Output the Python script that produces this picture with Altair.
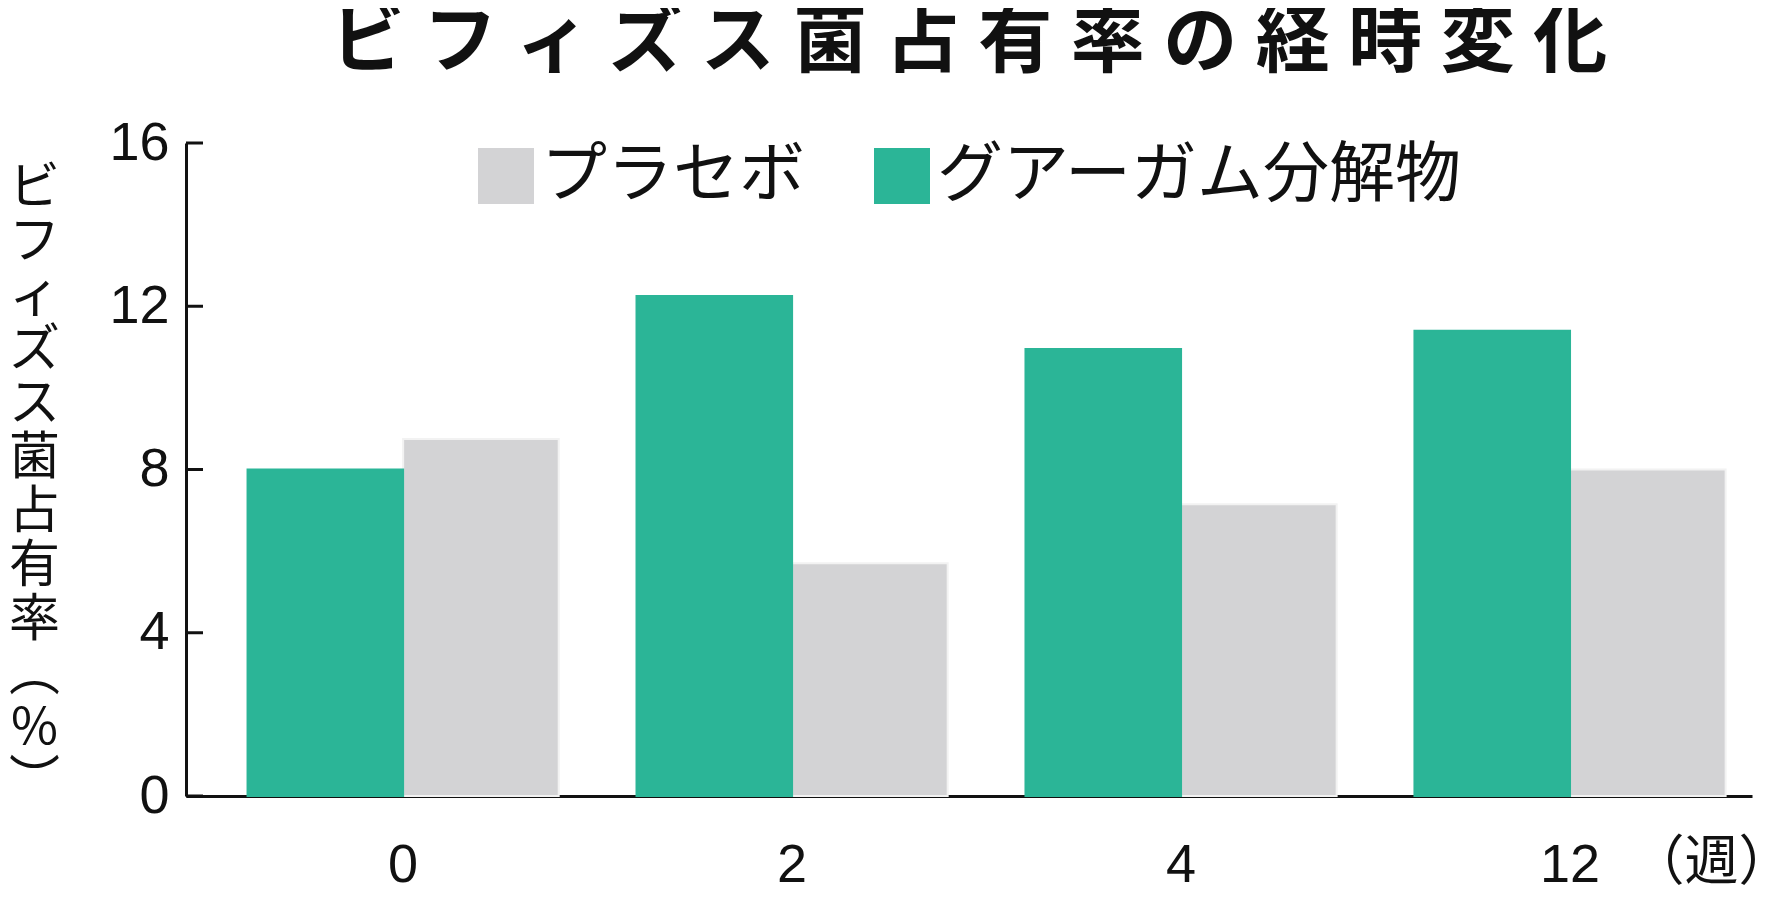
import altair as alt
import pandas as pd

weeks = ["0", "2", "4", "12"]
series_names = ["プラセボ", "グアーガム分解物"]
placebo = [8.75, 5.7, 7.15, 8.0]
guar = [8.0, 12.25, 10.95, 11.4]
y_ticks = [0, 4, 8, 12, 16]
title_text = "ビフィズス菌占有率の経時変化"
y_title_chars = ["ビ", "フ", "ィ", "ズ", "ス", "菌", "占", "有", "率", "︵", "%", "︶"]
x_unit = "（週）"
colors = ["#d3d3d5", "#2bb597"]
edge_colors = ["#f2f2f2", "#2bb597"]

rows = []
for w, p, g in zip(weeks, placebo, guar):
    rows.append({"week": w, "series": series_names[0], "value": p})
    rows.append({"week": w, "series": series_names[1], "value": g})
df = pd.DataFrame(rows)
tick_df = pd.DataFrame({"t": y_ticks})

JP = "Noto Sans CJK JP"
NUM = "Liberation Sans"

y_scale = alt.Scale(domain=[0, 16])

bars = alt.Chart(df).mark_bar(strokeWidth=2).encode(
    x=alt.X("week:N", sort=weeks,
            scale=alt.Scale(paddingInner=0.2, paddingOuter=0.113, align=0.7),
            axis=alt.Axis(title=x_unit, titleX=1525, titleY=40, titleAlign="center",
                          titleBaseline="top", titleFont=JP, titleFontSize=54,
                          titleFontWeight="normal", titleColor="#111",
                          labelAngle=0, labelFont=NUM, labelFontSize=54, labelColor="#111",
                          labelPadding=42, ticks=False, domainColor="#111",
                          domainWidth=3, grid=False)),
    xOffset=alt.XOffset("series:N", sort=[series_names[1], series_names[0]]),
    y=alt.Y("value:Q", scale=y_scale,
            axis=alt.Axis(values=y_ticks, title=y_title_chars, titleAngle=0,
                          titleX=-152, titleY=20, titleAlign="center", titleBaseline="top",
                          titleFont=JP, titleFontSize=51, titleFontWeight="normal",
                          titleLineHeight=54, titleColor="#111",
                          labelFont=NUM, labelFontSize=54, labelColor="#111",
                          labelPadding=17, ticks=False, domainColor="#111",
                          domainWidth=3, grid=False)),
    color=alt.Color("series:N", scale=alt.Scale(domain=series_names, range=colors),
                    legend=alt.Legend(title=None, orient="none", legendX=287, legendY=0,
                                      direction="horizontal", symbolType="square",
                                      symbolSize=3136, symbolStrokeWidth=0,
                                      labelFont=JP, labelFontSize=66, labelColor="#111",
                                      labelOffset=2, columnPadding=64, labelLimit=0,
                                      symbolOpacity=1)),
    stroke=alt.Stroke("series:N", scale=alt.Scale(domain=series_names, range=edge_colors),
                      legend=None),
)

ticks = alt.Chart(tick_df).mark_rule(color="#111", strokeWidth=3).encode(
    y=alt.Y("t:Q", scale=y_scale),
    x=alt.value(0),
    x2=alt.value(17),
)

chart = alt.layer(bars, ticks).properties(
    width=1566,
    height=653,
    title=alt.TitleParams(text="\u2005".join(title_text), font=JP, fontSize=74,
                          fontWeight="bold", color="#111", anchor="middle",
                          frame="group", offset=40, dy=80, baseline="bottom"),
    autosize=alt.AutoSizeParams(type="none"),
    padding={"left": 178, "top": 135, "right": 10, "bottom": 100},
).configure_view(stroke=None)

chart.save("out.html", embed_options={"renderer": "svg", "actions": False})
